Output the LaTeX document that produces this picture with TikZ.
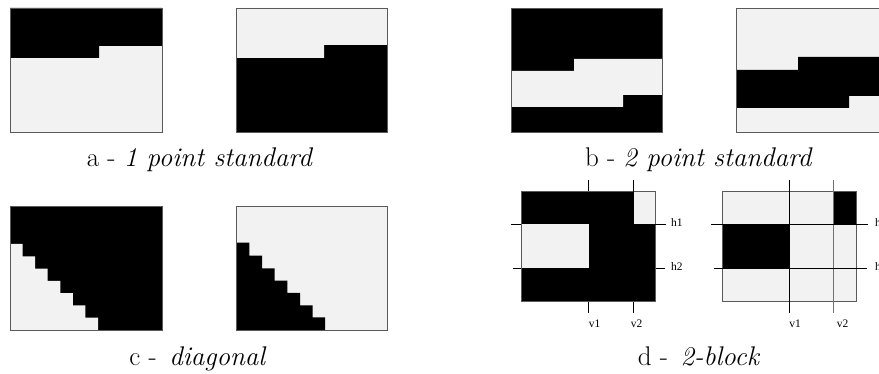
\documentclass[tikz,border=0pt]{standalone}
\usepackage{fontspec}
\newfontfamily\lblfont{Liberation Serif}
\definecolor{lite}{RGB}{242,242,242}
\definecolor{edge}{RGB}{90,90,90}
\tikzset{
  litefill/.style={fill=lite},
  darkfill/.style={fill=black},
  boxedge/.style={draw=edge,line width=0.9pt},
  cutline/.style={draw=black,line width=0.8pt},
  graycut/.style={draw=black!55,line width=1.3pt},
  caption/.style={anchor=base,inner sep=0pt,font=\fontsize{27}{32}\selectfont},
  lbl/.style={inner sep=0pt,font=\lblfont\fontsize{11.5}{13}\selectfont}
}
\begin{document}
\begin{tikzpicture}[x=1pt,y=-1pt]
\path[use as bounding box] (0,0) rectangle (879,374);
\clip (0,0) rectangle (879,374);
% ---------- a : 1 point standard ----------
\fill[litefill] (10,8) rectangle (162,132);
\fill[darkfill] (10,8) -- (162,8) -- (162,46) -- (99,46) -- (99,58) -- (10,58) -- cycle;
\draw[boxedge] (10,8) rectangle (162,132);
\fill[darkfill] (236,8) rectangle (387,132);
\fill[litefill] (236,8) -- (387,8) -- (387,45) -- (324,45) -- (324,58) -- (236,58) -- cycle;
\draw[boxedge] (236,8) rectangle (387,132);
\node[caption] (capA) at (200,167) {a - \textit{1 point standard}};
% ---------- b : 2 point standard ----------
\fill[darkfill] (511,8) rectangle (662,132);
\fill[litefill] (511,71) -- (574,71) -- (574,59) -- (662,59) -- (662,95) -- (623,95) -- (623,107) -- (511,107) -- cycle;
\draw[boxedge] (511,8) rectangle (662,132);
\fill[litefill] (736,8) rectangle (887,132);
\fill[darkfill] (736,70) -- (798,70) -- (798,57) -- (887,57) -- (887,96) -- (849,96) -- (849,108) -- (736,108) -- cycle;
\draw[boxedge] (736,8) rectangle (887,132);
\node[caption] (capB) at (699,167) {b - \textit{2 point standard}};
% ---------- c : diagonal ----------
\fill[darkfill] (10,206) rectangle (162,330);
\fill[litefill] (10,330) -- (10,244) -- (22.57,244) -- (22.57,256.29) -- (35.14,256.29) -- (35.14,268.57)
  -- (47.71,268.57) -- (47.71,280.86) -- (60.29,280.86) -- (60.29,293.14) -- (72.86,293.14)
  -- (72.86,305.43) -- (85.43,305.43) -- (85.43,317.71) -- (98,317.71) -- (98,330) -- cycle;
\draw[boxedge] (10,206) rectangle (162,330);
\fill[litefill] (236,206) rectangle (387,330);
\fill[darkfill] (236,330) -- (236,242.7) -- (249.3,242.7) -- (249.3,255.7) -- (262,255.7) -- (262,268.3)
  -- (274.7,268.3) -- (274.7,280.7) -- (287.3,280.7) -- (287.3,293) -- (300,293) -- (300,305.3)
  -- (312.7,305.3) -- (312.7,317.3) -- (325,317.3) -- (325,330) -- cycle;
\draw[boxedge] (236,206) rectangle (387,330);
\node[caption] (capC) at (198,366) {c - \,\textit{diagonal}};
% ---------- d : 2-block ----------
\fill[darkfill] (521,191) rectangle (655.7,301.7);
\fill[litefill] (633.3,191) rectangle (655.7,224);
\fill[litefill] (521,224) rectangle (588.7,268.3);
\draw[boxedge] (521,191) rectangle (655.7,301.7);
\draw[cutline] (588.7,180) -- (588.7,191);
\draw[cutline] (588.7,301.7) -- (588.7,312.7);
\draw[cutline] (633.3,180) -- (633.3,224);
\draw[cutline] (633.3,301.7) -- (633.3,312.7);
\draw[cutline] (510.7,224) -- (521,224);
\draw[cutline] (633.3,224) -- (665.7,224);
\draw[cutline] (513,268.3) -- (521,268.3);
\draw[cutline] (655.7,268.3) -- (665,268.3);
\node[lbl,anchor=mid west] (h1a) at (671,224) {h1};
\node[lbl,anchor=mid west] (h2a) at (671,268.3) {h2};
\node[lbl,anchor=base] (v1a) at (594.5,327) {v1};
\node[lbl,anchor=base] (v2a) at (636.5,327) {v2};
\fill[litefill] (722.3,191) rectangle (856.7,301.7);
\fill[darkfill] (833.7,191) rectangle (856.7,224);
\fill[darkfill] (722.3,224) rectangle (789.3,268.3);
\draw[boxedge] (722.3,191) rectangle (856.7,301.7);
\draw[cutline] (789.3,180) -- (789.3,312.7);
\draw[graycut] (833.7,180) -- (833.7,312.7);
\draw[cutline] (711,224) -- (867.7,224);
\draw[cutline] (714,268.3) -- (867,268.3);
\node[lbl,anchor=mid west] (h1b) at (875,224) {h1};
\node[lbl,anchor=mid west] (h2b) at (875,268.3) {h2};
\node[lbl,anchor=base] (v1b) at (795,328) {v1};
\node[lbl,anchor=base] (v2b) at (842.5,328) {v2};
\node[caption] (capD) at (699,366) {d - \,\textit{2-block}};
\end{tikzpicture}
\end{document}
